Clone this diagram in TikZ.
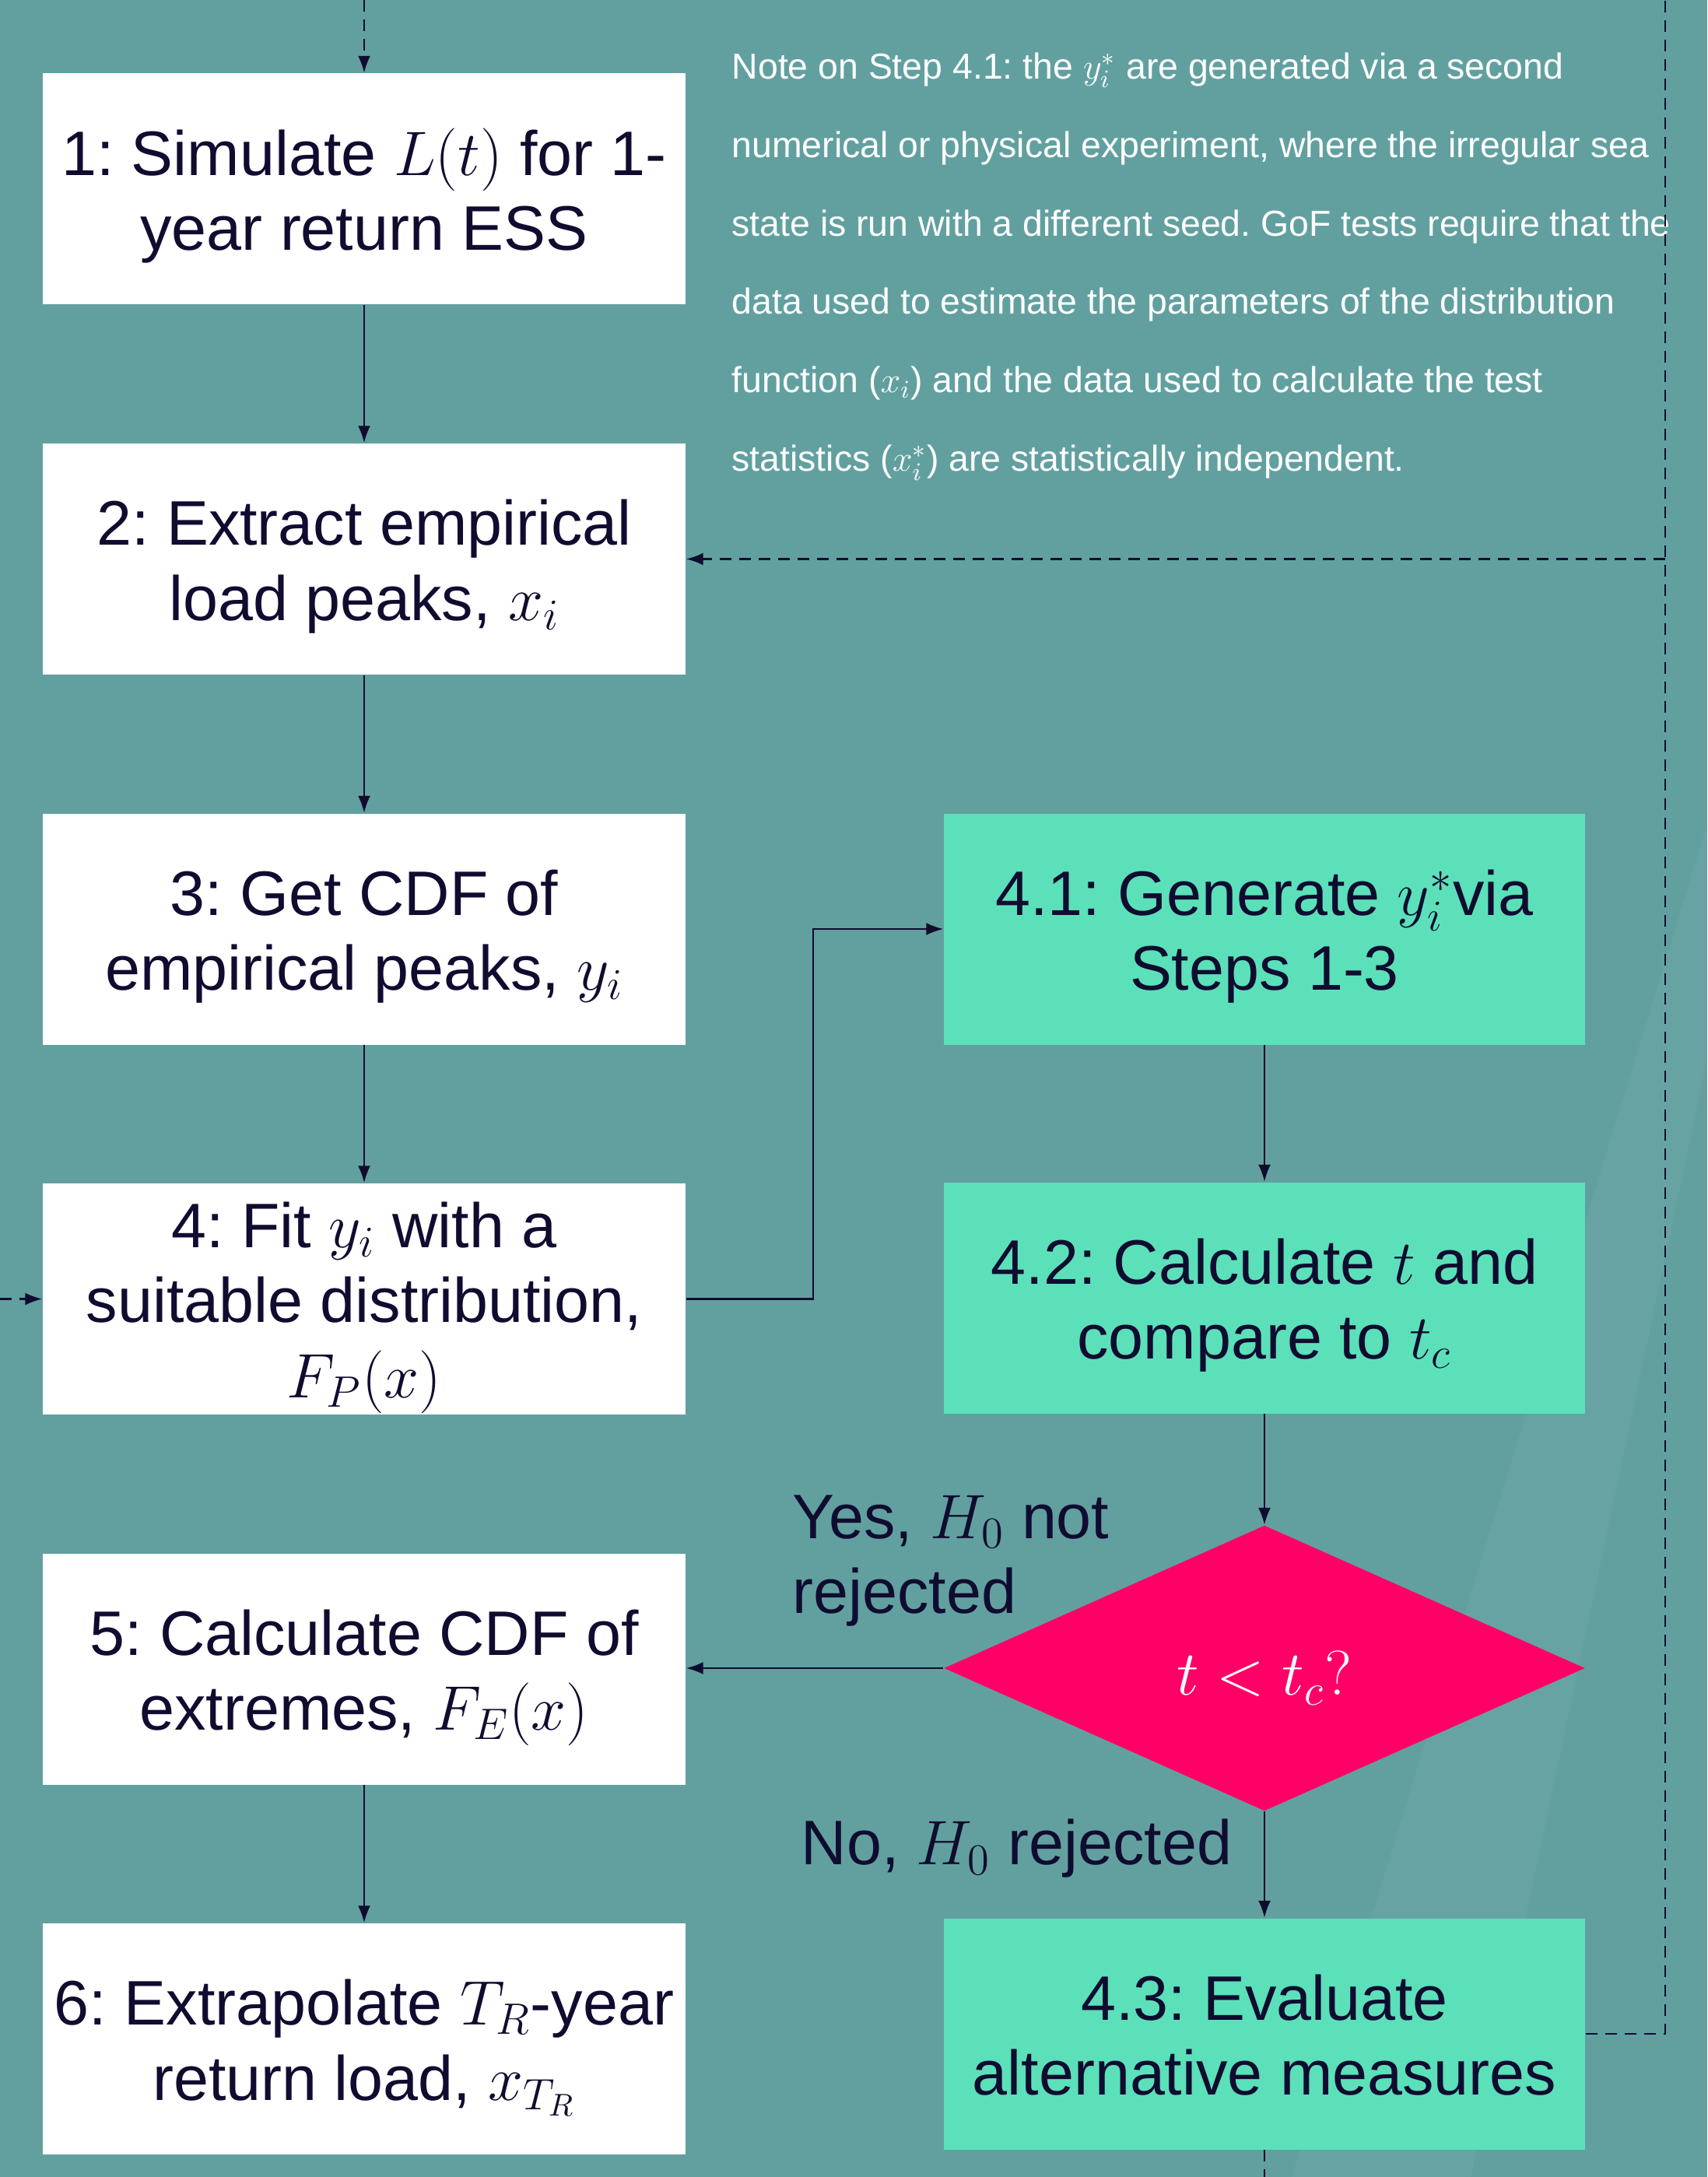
\documentclass[tikz,border=0pt]{standalone}
\usepackage{fix-cm}
\usepackage{fontspec}
\setmainfont{Liberation Sans}
\usetikzlibrary{shapes.geometric,arrows.meta,calc}
\definecolor{bgc}{HTML}{62A0A0}
\definecolor{mint}{HTML}{5CE0B9}
\definecolor{hotpink}{HTML}{FF0066}
\definecolor{ink}{HTML}{100C30}
\newcommand\boxfnt{\fontsize{23}{27.5}\selectfont}
\newcommand\notefnt{\fontsize{13.2}{28.7}\selectfont}
\newcommand\ls{\rule{0pt}{23.3pt}}
\newcommand\ds{\rule[-6pt]{0pt}{6pt}}
\tikzset{
  whitebox/.style={rectangle, fill=white, minimum width=8.26cm, minimum height=2.97cm, inner sep=0pt, align=center, text=ink, font=\boxfnt},
  greenbox/.style={whitebox, fill=mint, minimum width=8.24cm},
  decision/.style={diamond, fill=hotpink, minimum width=8.24cm, minimum height=3.67cm, inner sep=0pt, text=white, font=\boxfnt, execute at begin node=\ls},
  lbl/.style={align=left, text=ink, font=\boxfnt, inner sep=0pt},
  flow/.style={draw=ink, line width=0.7pt, -{Latex[length=0.22cm,width=0.16cm]}},
  dflow/.style={flow, dash pattern=on 0.15cm off 0.1cm},
  dline/.style={draw=ink, line width=0.7pt, dash pattern=on 0.15cm off 0.1cm},
}
\begin{document}
\frenchspacing
\begin{tikzpicture}
\fill[bgc] (0,0) rectangle (21.94,-27.98);
\fill[white, opacity=0.035] (21.94,-10.6) -- (21.94,-13.6) -- (18.9,-27.98) -- (16.6,-27.98) -- cycle;
\useasboundingbox (0,0) rectangle (21.94,-27.98);

% left column
\node[whitebox] (b1) at (4.68,-2.43) {\ls 1: Simulate $L(t)$ for 1-\\year return ESS\ds};
\node[whitebox] (b2) at (4.68,-7.185) {\ls 2: Extract empirical\\load peaks, $x_i$\ds};
\node[whitebox] (b3) at (4.68,-11.94) {\ls 3: Get CDF of\\empirical peaks, $y_i$\ds};
\node[whitebox] (b4) at (4.68,-16.695) {\ls 4: Fit $y_i$ with a\\suitable distribution,\\$F_P(x)$\ds};
\node[whitebox] (b5) at (4.68,-21.45) {\ls 5: Calculate CDF of\\extremes, $F_E(x)$\ds};
\node[whitebox] (b6) at (4.68,-26.205) {\ls 6: Extrapolate $T_R$-year\\return load, $x_{T_R}$\ds};

% right column
\node[greenbox] (g1) at (16.25,-11.94) {\ls 4.1: Generate $y_i^*$via\\Steps 1-3\ds};
\node[greenbox] (g2) at (16.25,-16.68) {\ls 4.2: Calculate $t$ and\\compare to $t_c$\ds};
\node[decision] (dia) at (16.25,-21.44) {$t<t_c?$};
\node[greenbox] (g3) at (16.25,-26.14) {\ls 4.3: Evaluate\\alternative measures\ds};

% labels
\node[lbl, anchor=west] (yes) at (10.18,-20.06) {Yes, $H_0$ not\\rejected};
\node[lbl, anchor=west] (no) at (10.29,-23.76) {No, $H_0$ rejected};

% note
\node[anchor=north west, inner sep=0pt, align=left, text=white, font=\notefnt] (note) at (9.40,-0.67)
{Note on Step 4.1: the $y_i^*$ are generated via a second\\
numerical or physical experiment, where the irregular sea\\
state is run with a different seed. GoF tests require that the\\
data used to estimate the parameters of the distribution\\
function ($x_i$) and the data used to calculate the test\\
statistics ($x_i^*$) are statistically independent.};

% free ends
\coordinate (topin) at (4.68,0);
\coordinate (leftin) at (0,-16.695);
\coordinate (rtop) at (21.40,0);
\coordinate (rjoin) at (21.40,-7.185);
\coordinate (bot) at (16.25,-27.98);
\coordinate (elbow) at (10.45,-16.695);

% connectors
\draw[dflow] (topin) -- (b1);
\draw[flow] (b1) -- (b2);
\draw[flow] (b2) -- (b3);
\draw[flow] (b3) -- (b4);
\draw[flow] (b5) -- (b6);
\draw[flow] (b4.east) -- (elbow) |- (g1.west);
\draw[flow] (g1) -- (g2);
\draw[flow] (g2) -- (dia);
\draw[flow] (dia.west) -- (dia.west -| b5.east);
\draw[flow] (dia) -- (g3);
\draw[dline] (g3.east) -| (rtop);
\draw[dflow] (rjoin) -- (b2.east);
\draw[dflow] (leftin) -- (b4.west);
\draw[dline] (g3.south) -- (bot);
\end{tikzpicture}
\end{document}
